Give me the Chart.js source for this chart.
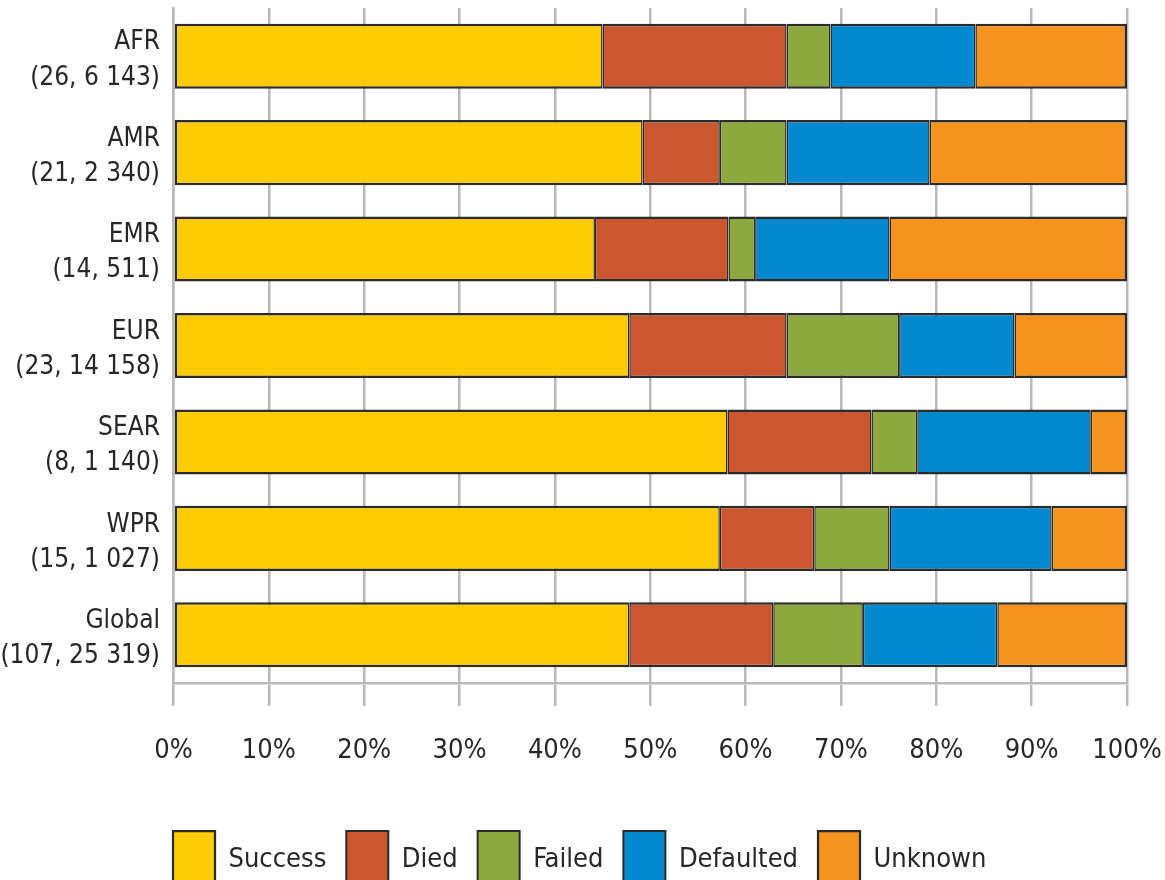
<!DOCTYPE html>
<html>
<head>
<meta charset="utf-8">
<script src="https://cdn.jsdelivr.net/npm/chart.js@4.4.1/dist/chart.umd.min.js"></script>
<style>
    html, body { margin: 0; padding: 0; background: #fff; }
    #wrap { width: 1165px; height: 880px; overflow: hidden; }
</style>
</head>
<body>
<div id="wrap">
    <canvas id="outcomeChart" width="1165" height="899"></canvas>
</div>
<script>
// regions, with (countries, cases) underneath
const regions = [
    ['AFR', '(26, 6 143)'],
    ['AMR', '(21, 2 340)'],
    ['EMR', '(14, 511)'],
    ['EUR', '(23, 14 158)'],
    ['SEAR', '(8, 1 140)'],
    ['WPR', '(15, 1 027)'],
    ['Global', '(107, 25 319)']
];

// percent of cohort
const success   = [45.0, 49.2, 44.2, 47.8, 58.1, 57.3, 47.8];
const died      = [19.3,  8.1, 14.0, 16.5, 15.1,  9.9, 15.1];
const failed    = [ 4.6,  7.0,  2.8, 11.8,  4.8,  7.9,  9.4];
const defaulted = [15.2, 15.0, 14.1, 12.1, 18.2, 17.0, 14.1];
const unknown   = [15.9, 20.7, 24.9, 11.8,  3.8,  7.9, 13.6];

const xTicks = [0, 10, 20, 30, 40, 50, 60, 70, 80, 90, 100];

const fontFamily = '"DejaVu Sans Condensed", "Liberation Sans Narrow", sans-serif';
const textColor = '#2a2627';
const gridColor = '#b9b9bb';
const edge = '#2b2b2b';

function series(label, data, color, bw) {
    return {
        label: label,
        data: data,
        backgroundColor: color,
        borderColor: edge,
        borderWidth: bw,
        borderSkipped: false
    };
}

function noOverhang(scale) {
    scale.paddingTop = 0;
    scale.paddingBottom = 0;
    scale.paddingLeft = 0;
    scale.paddingRight = 0;
}

// push the legend row so it starts under the plot's left edge
const legendShift = {
    id: 'legendShift',
    afterLayout(chart) {
        chart.legend.left = 173 - chart.legend.options.labels.padding;
    }
};

const ctx = document.getElementById('outcomeChart').getContext('2d');
new Chart(ctx, {
    type: 'bar',
    data: {
        labels: regions,
        datasets: [
            series('Success', success, '#fecb05', {top: 2.5, bottom: 2.5, left: 2.5, right: 1.5}),
            series('Died', died, '#ca572f', {top: 2.5, bottom: 2.5, left: 1.5, right: 1.5}),
            series('Failed', failed, '#8ca83e', {top: 2.5, bottom: 2.5, left: 1.5, right: 1.5}),
            series('Defaulted', defaulted, '#0189d0', {top: 2.5, bottom: 2.5, left: 1.5, right: 1.5}),
            series('Unknown', unknown, '#f6931f', {top: 2.5, bottom: 2.5, left: 1.5, right: 2.5})
        ]
    },
    plugins: [legendShift],
    options: {
        indexAxis: 'y',
        responsive: false,
        animation: false,
        layout: { padding: { top: 8, left: 0, right: 38, bottom: 0 } },
        datasets: { bar: { categoryPercentage: 1, barPercentage: 0.675 } },
        plugins: {
            tooltip: { enabled: false },
            legend: {
                position: 'bottom',
                align: 'start',
                labels: {
                    boxWidth: 42,
                    boxHeight: 58,
                    padding: 20,
                    color: textColor,
                    font: { family: fontFamily, size: 27 }
                }
            }
        },
        scales: {
            x: {
                stacked: true,
                min: 0,
                max: 100,
                afterBuildTicks: function(scale) {
                    scale.ticks = xTicks.map(v => ({ value: v }));
                },
                afterFit: function(scale) {
                    scale.height = 128;
                    noOverhang(scale);
                },
                grid: { color: gridColor, lineWidth: 2.5, tickLength: 23, drawTicks: true },
                border: { color: gridColor, width: 2.5 },
                ticks: {
                    padding: 29,
                    color: textColor,
                    maxRotation: 0,
                    font: { family: fontFamily, size: 27 },
                    callback: v => v + '%'
                }
            },
            y: {
                stacked: true,
                afterFit: function(scale) {
                    scale.width = 173.5;
                    noOverhang(scale);
                },
                grid: { display: false, drawTicks: false },
                border: { color: gridColor, width: 2.5 },
                ticks: {
                    padding: 13.5,
                    labelOffset: 4,
                    color: textColor,
                    font: { family: fontFamily, size: 26, lineHeight: 1.35 }
                }
            }
        }
    }
});
</script>
</body>
</html>
